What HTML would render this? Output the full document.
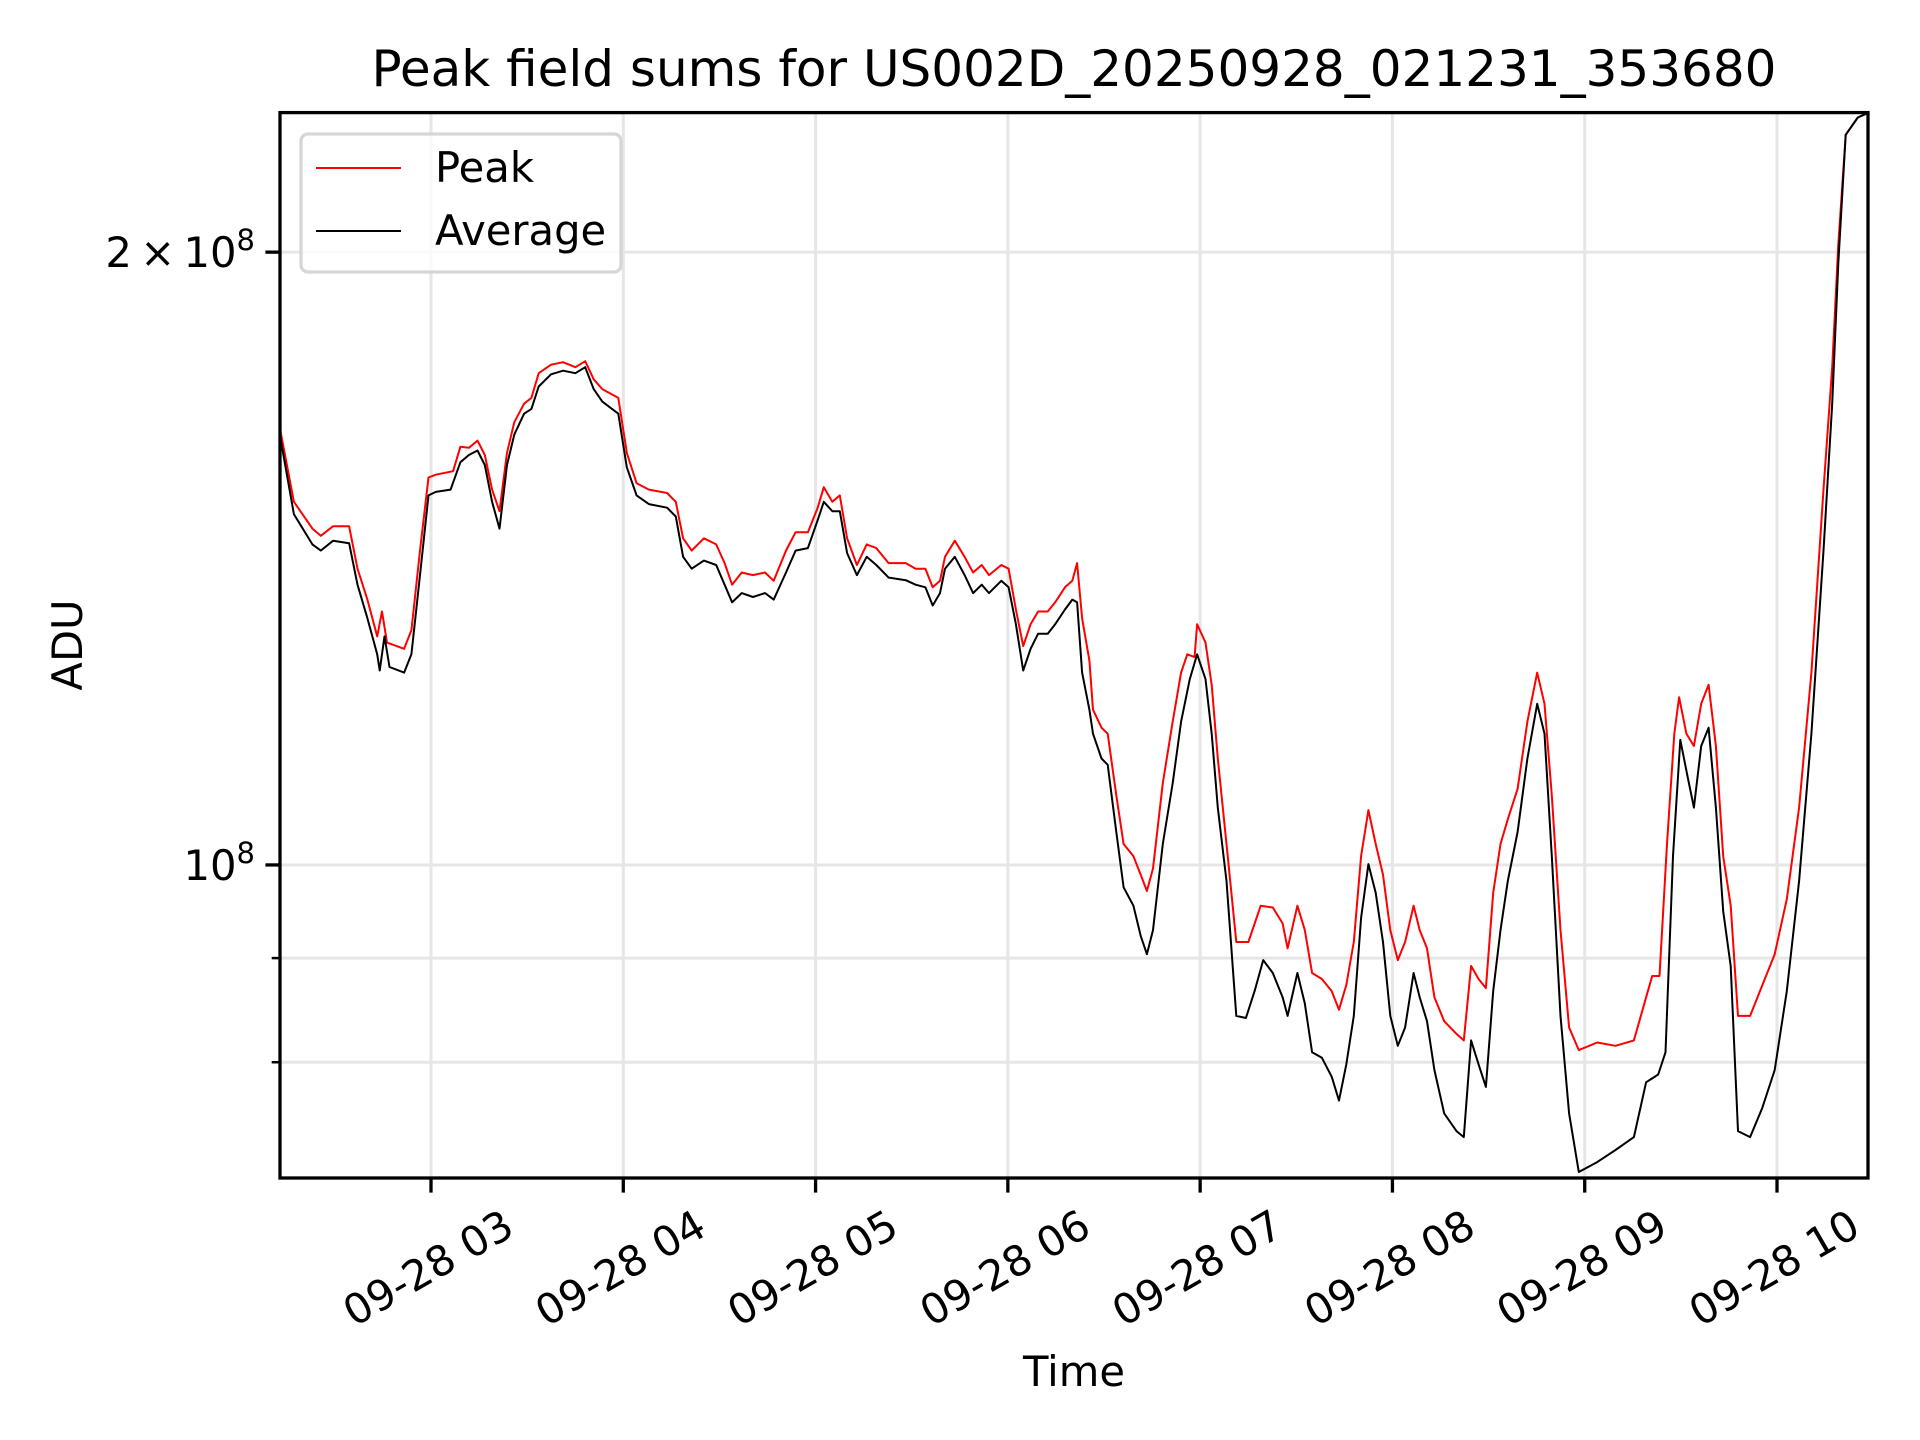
<!DOCTYPE html>
<html><head><meta charset="utf-8"><style>
html,body{margin:0;padding:0;background:#fff;}
svg{display:block;font-family:"DejaVu Sans","Liberation Sans",sans-serif;}
</style></head><body>
<svg id="chart" width="1920" height="1440" viewBox="0 0 1920 1440" xmlns="http://www.w3.org/2000/svg">
<rect width="1920" height="1440" fill="#fff"/>
<g id="grid"></g>
<g id="series"></g>
<rect x="280" y="112.6" width="1588" height="1065.4" fill="none" stroke="#000" stroke-width="3.3"/>
<g id="xticks"></g>
<g id="yticks"></g>
<text x="1074" y="86" font-size="50" text-anchor="middle">Peak field sums for US002D_20250928_021231_353680</text>
<text x="1074" y="1386" font-size="41.7" text-anchor="middle">Time</text>
<text transform="translate(82,645) rotate(-90)" font-size="41.7" text-anchor="middle">ADU</text>
<g>
<rect x="301" y="134" width="320" height="138" rx="7" fill="#fff" fill-opacity="0.8" stroke="#d6d6d6" stroke-width="3.3"/>
<line x1="316" y1="168" x2="401" y2="168" stroke="#ff0000" stroke-width="2"/>
<text x="435" y="182" font-size="41.7">Peak</text>
<line x1="316" y1="231" x2="401" y2="231" stroke="#000" stroke-width="2"/>
<text x="435" y="245" font-size="41.7">Average</text>
</g>
</svg>
<script>
const peakTimes=[2.217,2.287,2.383,2.427,2.491,2.574,2.618,2.669,2.720,2.745,2.771,2.860,2.898,2.943,2.987,3.025,3.115,3.153,3.197,3.242,3.280,3.318,3.356,3.395,3.433,3.484,3.522,3.560,3.624,3.687,3.751,3.802,3.846,3.891,3.974,4.018,4.069,4.133,4.228,4.273,4.311,4.356,4.419,4.483,4.527,4.566,4.616,4.674,4.737,4.782,4.846,4.896,4.960,5.011,5.043,5.087,5.126,5.164,5.215,5.266,5.316,5.380,5.469,5.520,5.571,5.609,5.647,5.673,5.724,5.775,5.819,5.864,5.902,5.966,6.004,6.042,6.080,6.118,6.157,6.207,6.246,6.297,6.335,6.360,6.386,6.424,6.443,6.487,6.519,6.564,6.602,6.653,6.691,6.723,6.755,6.806,6.857,6.901,6.933,6.971,6.984,7.028,7.060,7.092,7.137,7.188,7.251,7.315,7.378,7.429,7.455,7.506,7.544,7.582,7.633,7.684,7.722,7.760,7.799,7.837,7.875,7.913,7.951,7.989,8.028,8.066,8.110,8.142,8.180,8.218,8.269,8.333,8.371,8.409,8.448,8.486,8.524,8.562,8.600,8.651,8.702,8.753,8.791,8.829,8.874,8.919,8.969,9.065,9.160,9.256,9.319,9.351,9.389,9.428,9.466,9.491,9.529,9.568,9.606,9.644,9.682,9.720,9.759,9.797,9.860,9.924,9.988,10.051,10.115,10.179,10.242,10.287,10.319,10.357,10.420,10.478];
const peakValues=[1.634,1.508,1.463,1.451,1.467,1.467,1.398,1.350,1.295,1.332,1.286,1.277,1.304,1.427,1.550,1.555,1.561,1.605,1.603,1.616,1.590,1.529,1.492,1.594,1.650,1.685,1.696,1.744,1.761,1.766,1.756,1.768,1.732,1.713,1.696,1.594,1.540,1.529,1.523,1.508,1.447,1.427,1.447,1.437,1.407,1.373,1.392,1.388,1.392,1.379,1.427,1.457,1.457,1.498,1.533,1.508,1.519,1.447,1.404,1.437,1.431,1.407,1.407,1.398,1.398,1.369,1.379,1.417,1.443,1.417,1.392,1.404,1.388,1.404,1.398,1.335,1.281,1.313,1.332,1.332,1.346,1.369,1.379,1.407,1.322,1.260,1.192,1.168,1.160,1.082,1.024,1.010,0.989,0.971,0.996,1.097,1.176,1.243,1.269,1.265,1.313,1.286,1.226,1.128,1.024,0.9165,0.9165,0.955,0.953,0.936,0.910,0.955,0.929,0.885,0.879,0.867,0.849,0.873,0.9165,1.010,1.064,1.024,0.989,0.929,0.898,0.9165,0.955,0.929,0.910,0.861,0.838,0.826,0.820,0.892,0.879,0.870,0.969,1.024,1.053,1.090,1.176,1.243,1.200,1.082,0.929,0.832,0.811,0.818,0.815,0.820,0.861,0.882,0.882,1.024,1.160,1.209,1.160,1.144,1.200,1.226,1.144,1.010,0.955,0.843,0.843,0.873,0.904,0.962,1.067,1.243,1.529,1.756,2.017,2.284,2.329,2.342];
const avgTimes=[2.217,2.287,2.383,2.427,2.491,2.574,2.618,2.669,2.720,2.733,2.758,2.784,2.860,2.898,2.943,2.987,3.025,3.102,3.153,3.197,3.242,3.280,3.318,3.356,3.395,3.433,3.484,3.522,3.560,3.624,3.687,3.751,3.802,3.846,3.891,3.974,4.018,4.069,4.133,4.228,4.273,4.311,4.356,4.419,4.483,4.527,4.566,4.616,4.674,4.737,4.782,4.846,4.896,4.960,5.011,5.043,5.087,5.126,5.164,5.215,5.266,5.316,5.380,5.469,5.520,5.571,5.609,5.647,5.673,5.724,5.775,5.819,5.864,5.902,5.966,6.004,6.042,6.080,6.118,6.157,6.207,6.246,6.297,6.335,6.360,6.386,6.424,6.443,6.487,6.519,6.564,6.602,6.653,6.691,6.723,6.755,6.806,6.857,6.901,6.946,6.984,7.028,7.060,7.092,7.137,7.188,7.238,7.283,7.328,7.378,7.429,7.455,7.506,7.544,7.582,7.633,7.684,7.722,7.760,7.799,7.837,7.875,7.913,7.951,7.989,8.028,8.066,8.110,8.142,8.180,8.218,8.269,8.333,8.371,8.409,8.448,8.486,8.524,8.562,8.600,8.651,8.702,8.753,8.791,8.829,8.874,8.919,8.969,9.065,9.160,9.256,9.319,9.382,9.420,9.459,9.497,9.535,9.568,9.606,9.644,9.682,9.720,9.759,9.797,9.860,9.924,9.988,10.051,10.115,10.179,10.242,10.287,10.319,10.357,10.420,10.478];
const avgValues=[1.621,1.487,1.437,1.427,1.443,1.439,1.373,1.322,1.269,1.246,1.295,1.251,1.243,1.269,1.388,1.519,1.525,1.529,1.577,1.590,1.598,1.572,1.508,1.463,1.572,1.627,1.666,1.675,1.718,1.742,1.749,1.744,1.756,1.713,1.689,1.666,1.568,1.519,1.504,1.498,1.483,1.417,1.398,1.411,1.404,1.373,1.346,1.360,1.354,1.360,1.350,1.392,1.427,1.431,1.477,1.508,1.492,1.492,1.423,1.388,1.417,1.404,1.384,1.380,1.373,1.369,1.341,1.360,1.398,1.417,1.388,1.360,1.373,1.360,1.379,1.369,1.313,1.246,1.277,1.299,1.299,1.313,1.335,1.350,1.346,1.243,1.192,1.160,1.128,1.120,1.038,0.975,0.955,0.923,0.904,0.929,1.024,1.097,1.176,1.234,1.269,1.234,1.160,1.067,0.982,0.843,0.841,0.867,0.898,0.885,0.861,0.843,0.885,0.855,0.809,0.804,0.787,0.766,0.798,0.843,0.942,1.001,0.969,0.9165,0.843,0.815,0.832,0.885,0.861,0.838,0.793,0.755,0.740,0.735,0.820,0.798,0.778,0.867,0.929,0.982,1.038,1.128,1.200,1.160,1.010,0.843,0.755,0.7066,0.7145,0.7244,0.735,0.782,0.789,0.809,1.010,1.152,1.105,1.067,1.144,1.168,1.067,0.949,0.892,0.740,0.735,0.760,0.793,0.867,0.982,1.160,1.427,1.685,1.975,2.284,2.329,2.342];
const xTickHours=[3,4,5,6,7,8,9,10];
const xTickLabels=["09-28 03","09-28 04","09-28 05","09-28 06","09-28 07","09-28 08","09-28 09","09-28 10"];
const yMajorTicks=[1,2];
const yMinorTicks=[0.8,0.9];

const NS="http://www.w3.org/2000/svg";
const L=280,R=1868,T=112.6,B=1178;
const xMin=2.2147,xMax=10.4732,yMin=0.7018,yMax=2.342;
function xs(h){return L+(h-xMin)/(xMax-xMin)*(R-L);}
function ys(v){return B-(Math.log(v)-Math.log(yMin))/(Math.log(yMax)-Math.log(yMin))*(B-T);}
function mk(tag,attrs,parent){const e=document.createElementNS(NS,tag);for(const k in attrs)e.setAttribute(k,attrs[k]);parent.appendChild(e);return e;}
const grid=document.getElementById('grid'),series=document.getElementById('series'),xt=document.getElementById('xticks'),yt=document.getElementById('yticks');
xTickHours.forEach((h,i)=>{
  const x=xs(h);
  const g=mk('line',{x1:x,x2:x,y1:T,y2:B,stroke:'#e6e6e6','stroke-width':3},grid);
  
  
  const t=mk('line',{x1:x,x2:x,y1:B,y2:B+14.6,stroke:'#000','stroke-width':3.3},xt);
  
  
  const lb=mk('text',{'font-size':41.7,'text-anchor':'middle','dominant-baseline':'central',transform:`translate(${x-3},1268) rotate(-30)`},xt);
  lb.textContent=xTickLabels[i];
  
  
});
yMinorTicks.concat(yMajorTicks).forEach(v=>{
  const y=ys(v);
  const g=mk('line',{x1:L,x2:R,y1:y,y2:y,stroke:'#e6e6e6','stroke-width':3},grid);
  
  
});
yMinorTicks.forEach(v=>{
  const y=ys(v);
  const t=mk('line',{x1:L-8.3,x2:L,y1:y,y2:y,stroke:'#000','stroke-width':2.5},yt);
  
  
});
yMajorTicks.forEach(v=>{
  const y=ys(v);
  const t=mk('line',{x1:L-14.6,x2:L,y1:y,y2:y,stroke:'#000','stroke-width':3.3},yt);
  
  
  const lb=mk('text',{x:255,y:y+15,'font-size':41.7,'text-anchor':'end'},yt);
  lb.innerHTML=(v===1?'':v+'\u2009×\u2009')+'10<tspan dy="-17" font-size="29">8</tspan>';
  
  
});
function drawLine(ts,vs,color,name){
  const d=ts.map((t,i)=>(i?'L':'M')+xs(t).toFixed(1)+','+ys(vs[i]).toFixed(1)).join('');
  const p=mk('path',{d:d,fill:'none',stroke:color,'stroke-width':2,'stroke-linejoin':'round'},series);
  
  
}
drawLine(peakTimes,peakValues,'#ff0000','peak-line');
drawLine(avgTimes,avgValues,'#000000','average-line');
</script>
</body></html>
